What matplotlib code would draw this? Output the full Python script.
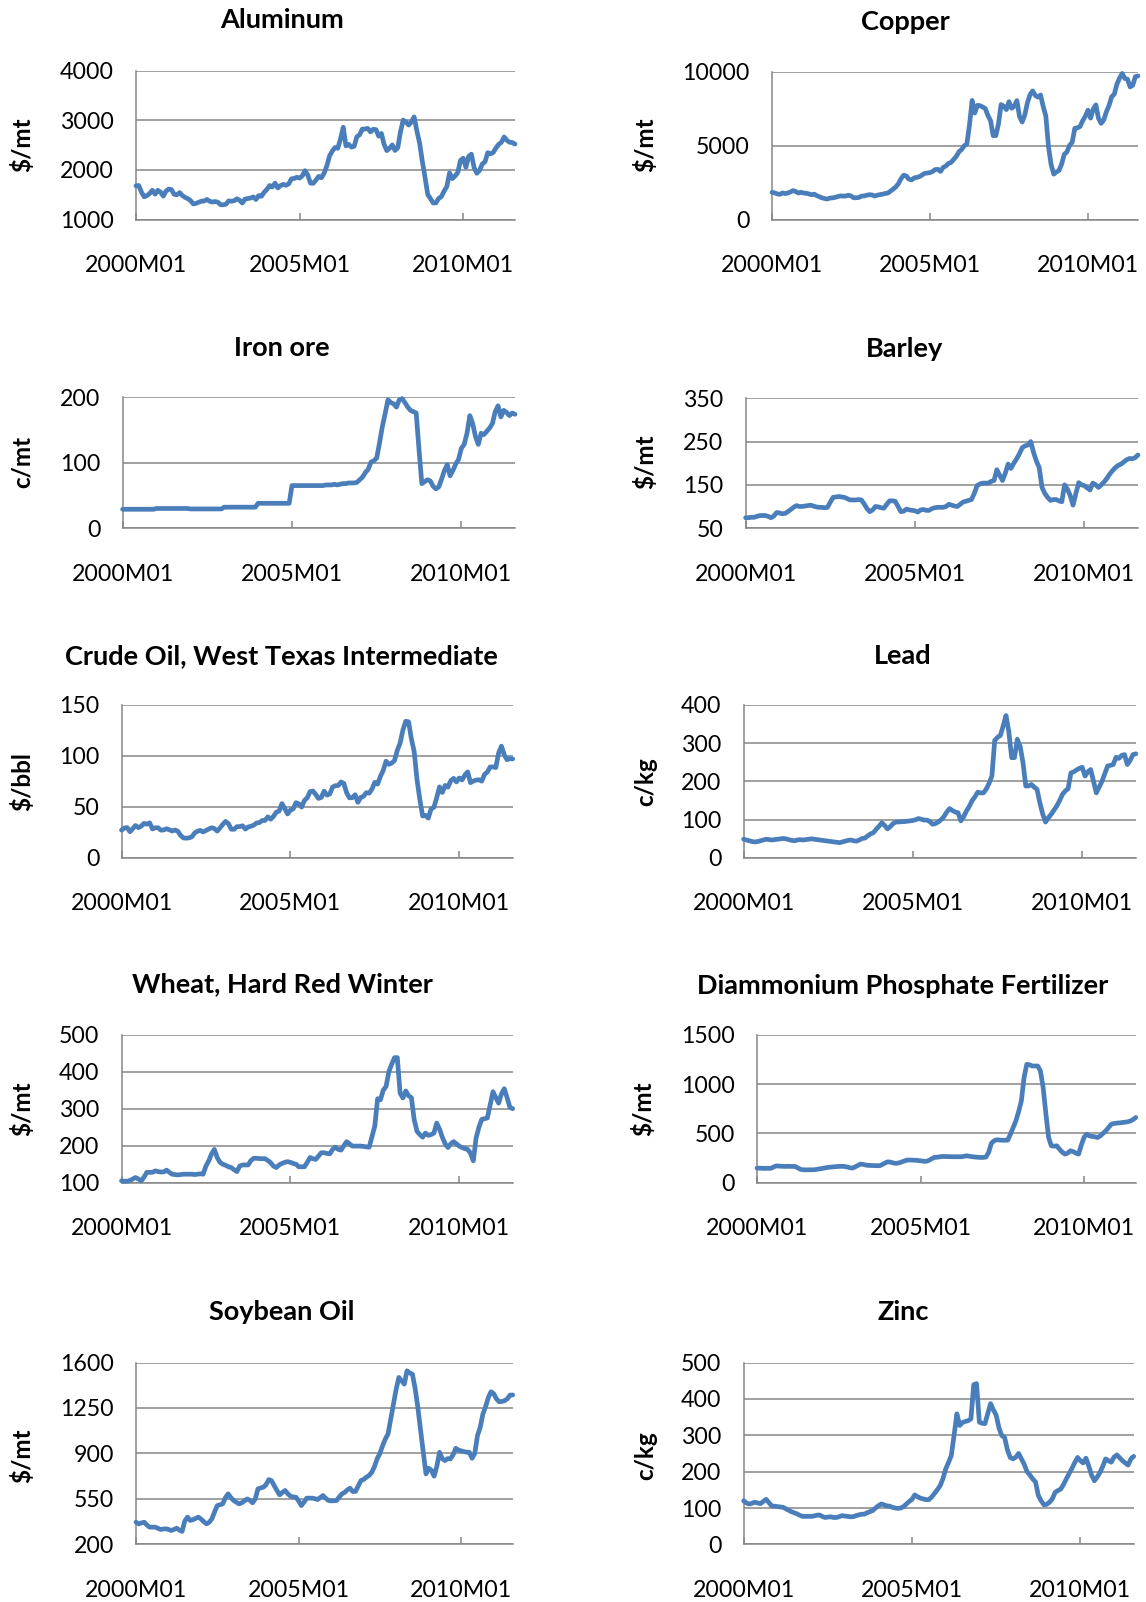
import matplotlib
matplotlib.use("Agg")
import matplotlib.pyplot as plt
import numpy as np

plt.rcParams['font.family'] = ['Lato', 'DejaVu Sans']

# ---------------- data (monthly, 2000M01 .. 2011M08) ----------------
x_tick_pos = [0, 60, 120]
x_tick_labels = ["2000M01", "2005M01", "2010M01"]

aluminum = [1680, 1686, 1553, 1459, 1482, 1524, 1591, 1512, 1589, 1553, 1473, 1573,
            1614, 1603, 1508, 1499, 1543, 1484, 1447, 1421, 1383, 1315, 1326, 1348,
            1371, 1374, 1406, 1369, 1353, 1364, 1352, 1299, 1298, 1310, 1377, 1369,
            1380, 1419, 1389, 1334, 1413, 1424, 1434, 1457, 1405, 1484, 1469, 1549,
            1608, 1685, 1658, 1733, 1637, 1684, 1709, 1690, 1719, 1820, 1827, 1852,
            1835, 1883, 1985, 1894, 1733, 1730, 1797, 1869, 1842, 1934, 2085, 2281,
            2381, 2452, 2434, 2621, 2858, 2483, 2514, 2459, 2474, 2666, 2706, 2822,
            2823, 2835, 2765, 2818, 2810, 2680, 2733, 2513, 2387, 2436, 2502, 2391,
            2445, 2767, 3003, 2962, 2903, 2964, 3067, 2787, 2544, 2176, 1851, 1506,
            1419, 1335, 1336, 1426, 1462, 1574, 1666, 1940, 1824, 1876, 1946, 2190,
            2235, 2051, 2272, 2316, 2046, 1932, 1989, 2119, 2163, 2347, 2323, 2350,
            2440, 2513, 2555, 2662, 2597, 2556, 2550, 2520]

copper = [1843, 1802, 1737, 1707, 1801, 1757, 1794, 1865, 1960, 1898, 1795, 1845,
          1794, 1778, 1737, 1674, 1718, 1617, 1547, 1465, 1426, 1386, 1453, 1470,
          1502, 1557, 1600, 1587, 1592, 1645, 1601, 1473, 1475, 1494, 1587, 1595,
          1648, 1683, 1665, 1590, 1648, 1688, 1715, 1766, 1791, 1923, 2056, 2201,
          2423, 2760, 3001, 2945, 2728, 2679, 2812, 2853, 2902, 3011, 3126, 3144,
          3170, 3253, 3379, 3394, 3253, 3526, 3615, 3798, 3858, 4059, 4269, 4577,
          4734, 4982, 5103, 6387, 8046, 7197, 7712, 7695, 7602, 7500, 7029, 6675,
          5669, 5671, 6452, 7767, 7656, 7429, 7960, 7518, 7653, 8037, 6963, 6587,
          7061, 7888, 8439, 8685, 8383, 8268, 8414, 7634, 6988, 4926, 3717, 3072,
          3221, 3315, 3750, 4407, 4569, 5014, 5216, 6165, 6196, 6288, 6676, 6982,
          7386, 6849, 7463, 7745, 6838, 6499, 6735, 7284, 7709, 8292, 8470, 9147,
          9556, 9868, 9530, 9483, 8960, 9067, 9650, 9700]

iron_ore = [28.8, 28.8, 28.8, 28.8, 28.8, 28.8, 28.8, 28.8, 28.8, 28.8, 28.8, 28.8,
            30.0, 30.0, 30.0, 30.0, 30.0, 30.0, 30.0, 30.0, 30.0, 30.0, 30.0, 30.0,
            29.3, 29.3, 29.3, 29.3, 29.3, 29.3, 29.3, 29.3, 29.3, 29.3, 29.3, 29.3,
            32.0, 32.0, 32.0, 32.0, 32.0, 32.0, 32.0, 32.0, 32.0, 32.0, 32.0, 32.0,
            37.9, 37.9, 37.9, 37.9, 37.9, 37.9, 37.9, 37.9, 37.9, 37.9, 37.9, 37.9,
            65.0, 65.0, 65.0, 65.0, 65.0, 65.0, 65.0, 65.0, 65.0, 65.0, 65.0, 65.0,
            66, 66, 66, 67, 66, 67, 68, 68, 69, 69, 69, 70,
            74, 78, 85, 90, 101, 103, 107, 130, 155, 175, 196, 192,
            190, 185, 196, 198, 192, 185, 180, 178, 176, 120, 68, 71,
            74, 72, 64, 60, 63, 75, 88, 97, 80, 88, 98, 105,
            122, 128, 145, 172, 160, 140, 128, 145, 143, 148, 153, 160,
            178, 187, 170, 180, 177, 172, 176, 174]

barley = [74, 74, 75, 75, 77, 79, 79, 79, 77, 74, 78, 86,
          85, 83, 84, 88, 93, 98, 102, 100, 100, 101, 102, 103,
          101, 99, 98, 98, 97, 98, 110, 121, 122, 123, 122, 121,
          118, 115, 115, 115, 116, 115, 106, 95, 88, 92, 100, 99,
          97, 96, 105, 113, 113, 112, 100, 88, 89, 94, 92, 91,
          90, 87, 92, 93, 91, 91, 95, 97, 98, 98, 98, 100,
          105, 103, 101, 100, 105, 110, 112, 114, 116, 130, 148, 152,
          154, 154, 154, 158, 160, 185, 172, 160, 177, 198, 188, 200,
          210, 222, 236, 240, 242, 250, 225, 205, 190, 144, 130, 121,
          114, 116, 116, 113, 111, 150, 140, 125, 103, 130, 155, 150,
          148, 143, 138, 154, 150, 144, 150, 157, 165, 175, 183, 190,
          195, 198, 203, 208, 211, 210, 213, 219]

crude_oil = [27.26, 29.37, 29.84, 25.72, 28.79, 31.82, 29.70, 31.26, 33.88, 33.11, 34.42, 28.44,
             29.59, 29.61, 27.24, 27.49, 28.63, 27.60, 26.43, 27.37, 26.20, 22.17, 19.64, 19.39,
             19.72, 20.72, 24.53, 26.18, 27.04, 25.52, 26.97, 28.39, 29.66, 28.84, 26.35, 29.46,
             32.95, 35.83, 33.51, 28.17, 28.11, 30.66, 30.75, 31.57, 28.31, 30.34, 31.11, 32.13,
             34.31, 34.69, 36.74, 36.75, 40.28, 38.03, 40.78, 44.90, 45.94, 53.28, 48.47, 43.15,
             46.84, 48.15, 54.19, 52.98, 49.83, 56.35, 59.00, 64.99, 65.59, 62.26, 58.32, 59.41,
             65.49, 61.63, 62.69, 69.44, 70.84, 70.95, 74.41, 73.04, 63.80, 58.89, 59.08, 61.96,
             54.51, 59.28, 60.44, 63.98, 63.45, 67.49, 74.12, 72.36, 79.92, 85.80, 94.77, 91.69,
             92.97, 95.39, 105.45, 112.58, 125.40, 133.88, 133.37, 116.67, 104.11, 76.61, 57.31, 41.12,
             41.71, 39.09, 47.94, 49.65, 59.03, 69.64, 64.15, 71.05, 69.41, 75.72, 77.99, 74.47,
             78.33, 76.39, 81.20, 84.29, 73.74, 75.34, 76.32, 76.60, 75.24, 81.89, 84.25, 89.15,
             89.17, 88.58, 102.86, 109.53, 100.90, 96.26, 97.30, 97.00]

lead = [49, 47, 45, 43, 42, 43, 45, 47, 49, 48, 47, 48,
        49, 50, 51, 50, 48, 46, 45, 47, 48, 47, 48, 49,
        50, 49, 48, 47, 46, 45, 44, 43, 42, 41, 40, 42,
        44, 46, 47, 45, 44, 47, 51, 52, 58, 63, 66, 75,
        83, 92, 85, 76, 82, 90, 94, 94, 95, 95, 96, 97,
        98, 100, 103, 101, 99, 99, 95, 88, 90, 94, 100, 108,
        120, 129, 124, 120, 118, 97, 108, 123, 135, 150, 160, 172,
        170, 170, 180, 195, 214, 307, 315, 320, 345, 372, 330, 262,
        262, 310, 292, 250, 188, 188, 192, 185, 179, 144, 115, 94,
        105, 114, 125, 136, 150, 166, 175, 181, 222, 225, 230, 234,
        237, 214, 225, 231, 200, 170, 185, 200, 220, 240, 242, 244,
        263, 260, 268, 270, 244, 255, 270, 272]

wheat = [105, 104, 104, 106, 110, 114, 110, 105, 115, 128, 128, 128,
         132, 130, 129, 129, 134, 128, 123, 122, 121, 122, 123, 123,
         123, 123, 122, 123, 124, 123, 145, 159, 178, 190, 168, 155,
         150, 147, 143, 141, 135, 130, 145, 148, 148, 148, 160, 166,
         166, 165, 165, 165, 160, 154, 145, 141, 148, 152, 155, 157,
         155, 152, 150, 143, 143, 143, 155, 168, 165, 163, 172, 181,
         181, 179, 178, 190, 196, 190, 188, 200, 211, 205, 199, 199,
         199, 199, 198, 197, 196, 225, 253, 327, 324, 350, 360, 400,
         420, 438, 438, 342, 329, 348, 335, 330, 270, 239, 230, 223,
         234, 228, 230, 234, 261, 245, 223, 205, 195, 205, 211, 205,
         199, 195, 192, 190, 180, 159, 221, 250, 271, 273, 275, 310,
         346, 330, 315, 340, 354, 330, 304, 300]

dap = [148, 147, 146, 145, 146, 145, 158, 170, 168, 165, 165, 166,
       165, 165, 165, 150, 135, 131, 130, 131, 131, 131, 135, 140,
       145, 150, 155, 158, 160, 163, 165, 166, 165, 160, 152, 148,
       160, 175, 189, 185, 178, 175, 174, 173, 172, 172, 185, 200,
       212, 208, 200, 196, 200, 210, 220, 229, 230, 229, 228, 226,
       222, 218, 216, 225, 240, 256, 258, 262, 266, 265, 264, 264,
       263, 263, 263, 263, 268, 273, 268, 263, 260, 258, 256, 256,
       260, 307, 400, 425, 435, 432, 430, 431, 431, 492, 560, 627,
       720, 829, 1065, 1200, 1195, 1183, 1183, 1183, 1133, 964, 700, 458,
       374, 370, 374, 340, 310, 290, 300, 324, 315, 300, 290, 380,
       460, 492, 475, 469, 465, 458, 475, 500, 526, 560, 593, 600,
       604, 606, 610, 614, 617, 625, 640, 661]

soybean_oil = [371, 358, 365, 371, 350, 333, 333, 333, 325, 315, 318, 320,
               315, 307, 315, 325, 310, 300, 380, 410, 384, 390, 400, 410,
               395, 375, 358, 370, 397, 450, 499, 505, 512, 560, 589, 560,
               538, 525, 512, 520, 535, 550, 540, 520, 550, 627, 635, 640,
               660, 699, 690, 653, 615, 581, 600, 615, 590, 571, 565, 563,
               535, 499, 525, 556, 556, 556, 552, 545, 560, 576, 555, 538,
               535, 536, 538, 565, 589, 600, 620, 632, 607, 607, 650, 691,
               700, 717, 730, 755, 800, 860, 900, 960, 1011, 1050, 1165, 1280,
               1395, 1485, 1460, 1434, 1536, 1520, 1510, 1400, 1254, 1080, 909, 743,
               786, 770, 725, 800, 909, 860, 845, 860, 858, 890, 940, 925,
               920, 914, 910, 909, 863, 900, 1037, 1100, 1203, 1260, 1330, 1375,
               1360, 1320, 1298, 1300, 1306, 1320, 1349, 1350]

zinc = [120, 114, 111, 113, 116, 114, 112, 118, 124, 115, 106, 105,
        104, 103, 102, 98, 94, 90, 87, 84, 80, 77, 77, 77,
        77, 78, 80, 81, 77, 74, 75, 76, 74, 74, 76, 79,
        78, 77, 76, 76, 79, 81, 83, 83, 87, 90, 93, 100,
        106, 111, 109, 106, 105, 102, 100, 99, 100, 104, 111, 118,
        124, 136, 131, 127, 125, 123, 123, 130, 140, 150, 161, 180,
        207, 225, 244, 300, 359, 327, 335, 338, 340, 345, 439, 442,
        336, 333, 332, 360, 387, 370, 355, 320, 299, 294, 260, 239,
        235, 240, 250, 235, 220, 200, 191, 180, 172, 135, 120, 109,
        110, 116, 125, 143, 148, 152, 165, 180, 195, 209, 225, 239,
        230, 224, 237, 215, 190, 175, 185, 198, 215, 235, 230, 226,
        240, 246, 238, 230, 224, 218, 235, 242]

titles = ["Aluminum", "Copper", "Iron ore", "Barley",
          "Crude Oil, West Texas Intermediate", "Lead",
          "Wheat, Hard Red Winter", "Diammonium Phosphate Fertilizer",
          "Soybean Oil", "Zinc"]
units = ["$/mt", "$/mt", "c/mt", "$/mt", "$/bbl", "c/kg", "$/mt", "$/mt", "$/mt", "c/kg"]
series = [aluminum, copper, iron_ore, barley, crude_oil, lead, wheat, dap, soybean_oil, zinc]
y_ticks = [[1000, 2000, 3000, 4000],
           [0, 5000, 10000],
           [0, 100, 200],
           [50, 150, 250, 350],
           [0, 50, 100, 150],
           [0, 100, 200, 300, 400],
           [100, 200, 300, 400, 500],
           [0, 500, 1000, 1500],
           [200, 550, 900, 1250, 1600],
           [0, 100, 200, 300, 400, 500]]

# ---------------- layout (pixels) ----------------
W, H = 1146, 1602
boxes = [  # left, top, right, bottom
    (136, 70.5, 515, 219.6), (772, 71.5, 1138, 219.6),
    (122.6, 397.3, 515, 528.1), (745.6, 398.3, 1138, 528.1),
    (121.5, 704.8, 512.7, 858.0), (743.6, 704.8, 1135.8, 858.0),
    (121.5, 1034.7, 512.7, 1182.7), (757, 1034.7, 1135.8, 1182.7),
    (136, 1362.5, 512.7, 1544.4), (743.6, 1362.5, 1133.7, 1544.4)]
title_pos = [(282, 20.5), (905, 21.5), (282, 348.3), (905, 349.3),
             (281, 655.7), (903, 655.7), (282, 984.6), (903, 985.6),
             (282, 1312.5), (903, 1312.5)]
ylabel_pos = [(22.5, 145), (645.5, 145), (22.5, 461.7), (645.5, 461.7),
              (22.5, 781.4), (645.5, 781.4), (22.5, 1108.2), (643.5, 1108.2),
              (22.5, 1455.5), (645.5, 1455.5)]

LINE = "#4A7EBB"
GRID = "#868686"

fig = plt.figure(figsize=(W / 100, H / 100), dpi=100)
fig.patch.set_facecolor("white")

for i in range(10):
    l, t, r, b = boxes[i]
    ax = fig.add_axes([l / W, 1 - b / H, (r - l) / W, (b - t) / H])
    vals = series[i]
    xs = np.arange(len(vals))
    ax.plot(xs, vals, color=LINE, lw=3.4, solid_joinstyle="round",
            solid_capstyle="round", clip_on=False, zorder=3)
    yt = y_ticks[i]
    ax.set_ylim(yt[0], yt[-1])
    ax.set_xlim(0, len(vals) - 1)
    ax.set_yticks(yt)
    ax.set_yticklabels([str(v) for v in yt])
    ax.set_xticks(x_tick_pos)
    ax.set_xticklabels(x_tick_labels)
    ax.yaxis.grid(True, color=GRID, lw=1.1)
    ax.set_axisbelow(True)
    for s in ["top", "right"]:
        ax.spines[s].set_visible(False)
    for s in ["left", "bottom"]:
        ax.spines[s].set_color(GRID)
        ax.spines[s].set_linewidth(1.1)
    ax.tick_params(axis="y", length=0, pad=16, labelsize=16.7, labelcolor="black")
    ax.tick_params(axis="x", direction="in", length=5, width=1.1, color=GRID,
                   pad=25.5, labelsize=16.7, labelcolor="black")
    ax.set_facecolor("white")

    tx, ty = title_pos[i]
    fig.text(tx / W, 1 - ty / H, titles[i], ha="center", va="center",
             fontsize=19.5, fontweight="bold")
    lx, ly = ylabel_pos[i]
    fig.text(lx / W, 1 - ly / H, units[i], ha="center", va="center",
             rotation=90, fontsize=17.5, fontweight="bold")

fig.savefig("out.png", dpi=100, facecolor="white")
